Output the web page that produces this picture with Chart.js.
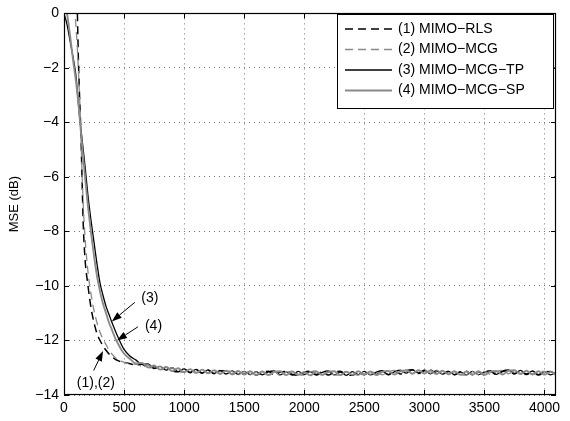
<!DOCTYPE html>
<html><head><meta charset="utf-8">
<script src="https://cdn.jsdelivr.net/npm/chart.js@4/dist/chart.umd.min.js"></script>
<style>html,body{margin:0;padding:0;background:#fff}canvas{display:block}</style>
</head><body>
<canvas id="c" width="570" height="421"></canvas>
<script>
// ---------- data ----------
const seriesNames = ['(1) MIMO\u2212RLS', '(2) MIMO\u2212MCG', '(3) MIMO\u2212MCG\u2212TP', '(4) MIMO\u2212MCG\u2212SP'];

const xTransient = [0,25,50,75,100,110,120,130,140,150,160,175,200,225,250,275,300,325,350,375,400,425,450,475,500,550];
const xSteady = [
  600,650,700,750,800,850,900,950,1000,1050,
  1100,1150,1200,1250,1300,1350,1400,1450,1500,1550,
  1600,1650,1700,1750,1800,1850,1900,1950,2000,2050,
  2100,2150,2200,2250,2300,2350,2400,2450,2500,2550,
  2600,2650,2700,2750,2800,2850,2900,2950,3000,3050,
  3100,3150,3200,3250,3300,3350,3400,3450,3500,3550,
  3600,3650,3700,3750,3800,3850,3900,3950,4000,4050,
  4096];

const rlsTransient = [3,3,3,3,2.0,0.3,-1.7,-3.1,-4.3,-6.0,-7.7,-9.0,-10.0,-10.8,-11.35,-11.75,-12.0,-12.2,-12.36,-12.5,-12.6,-12.68,-12.74,-12.78,-12.8,-12.85];
const rlsSteady = [
  -12.90,-12.87,-13.01,-12.96,-13.08,-12.98,-13.11,-13.15,-13.05,-13.18,
  -13.07,-13.20,-13.09,-13.22,-13.11,-13.12,-13.25,-13.13,-13.24,-13.14,
  -13.27,-13.16,-13.13,-13.26,-13.16,-13.14,-13.25,-13.28,-13.16,-13.13,
  -13.25,-13.15,-13.27,-13.16,-13.13,-13.25,-13.28,-13.15,-13.26,-13.13,
  -13.25,-13.14,-13.26,-13.12,-13.23,-13.11,-13.07,-13.21,-13.11,-13.08,
  -13.21,-13.24,-13.14,-13.26,-13.15,-13.13,-13.26,-13.15,-13.27,-13.14,
  -13.25,-13.14,-13.11,-13.23,-13.12,-13.25,-13.14,-13.27,-13.16,-13.14,
  -13.25];

const mcgTransient = [3,3,2.0,1.0,-0.5,-1.2,-2.1,-3.1,-4.3,-5.8,-7.0,-8.2,-9.5,-10.3,-10.9,-11.35,-11.7,-11.95,-12.15,-12.35,-12.5,-12.62,-12.7,-12.76,-12.8,-12.86];
const mcgSteady = [
  -12.88,-12.94,-12.90,-13.05,-12.95,-13.10,-13.00,-13.13,-13.17,-13.06,
  -13.18,-13.08,-13.21,-13.10,-13.23,-13.12,-13.14,-13.26,-13.14,-13.26,
  -13.15,-13.13,-13.25,-13.14,-13.28,-13.16,-13.13,-13.24,-13.27,-13.15,
  -13.12,-13.26,-13.14,-13.27,-13.25,-13.13,-13.24,-13.27,-13.14,-13.24,
  -13.12,-13.26,-13.15,-13.10,-13.22,-13.08,-13.20,-13.10,-13.07,-13.20,
  -13.09,-13.22,-13.25,-13.14,-13.24,-13.27,-13.14,-13.26,-13.13,-13.24,
  -13.14,-13.10,-13.22,-13.12,-13.24,-13.13,-13.26,-13.15,-13.13,-13.25,
  -13.16];

const tpTransient = [0,-0.4,-1.0,-1.6,-2.3,-2.8,-3.3,-3.8,-4.2,-4.6,-5.0,-5.6,-6.7,-7.6,-8.4,-9.2,-9.9,-10.35,-10.75,-11.05,-11.35,-11.62,-11.88,-12.12,-12.33,-12.58];
const tpSteady = [
  -12.72,-12.88,-12.86,-13.03,-12.95,-13.09,-13.00,-13.14,-13.04,-13.17,
  -13.06,-13.19,-13.08,-13.21,-13.10,-13.23,-13.12,-13.24,-13.13,-13.25,
  -13.14,-13.26,-13.15,-13.12,-13.26,-13.16,-13.27,-13.13,-13.25,-13.15,
  -13.27,-13.17,-13.12,-13.26,-13.16,-13.28,-13.14,-13.25,-13.13,-13.26,
  -13.16,-13.11,-13.25,-13.15,-13.09,-13.20,-13.08,-13.19,-13.09,-13.22,
  -13.11,-13.23,-13.13,-13.25,-13.15,-13.26,-13.13,-13.25,-13.16,-13.11,
  -13.24,-13.12,-13.08,-13.21,-13.10,-13.23,-13.12,-13.25,-13.14,-13.26,
  -13.16];

const spTransient = [0.5,0,-0.8,-1.7,-2.5,-2.9,-3.3,-3.8,-4.3,-4.8,-5.3,-6.0,-7.1,-8.05,-8.9,-9.65,-10.2,-10.65,-11.0,-11.35,-11.62,-11.9,-12.12,-12.32,-12.48,-12.68];
const spSteady = [
  -12.84,-12.82,-12.99,-12.92,-13.07,-12.97,-13.12,-13.02,-13.16,-13.05,
  -13.19,-13.07,-13.20,-13.09,-13.22,-13.11,-13.24,-13.12,-13.25,-13.13,
  -13.26,-13.14,-13.27,-13.15,-13.13,-13.27,-13.14,-13.26,-13.15,-13.28,
  -13.14,-13.26,-13.16,-13.13,-13.27,-13.15,-13.26,-13.13,-13.25,-13.14,
  -13.27,-13.15,-13.12,-13.25,-13.13,-13.10,-13.22,-13.09,-13.21,-13.10,
  -13.23,-13.11,-13.24,-13.13,-13.26,-13.14,-13.25,-13.13,-13.26,-13.14,
  -13.12,-13.25,-13.11,-13.09,-13.22,-13.11,-13.24,-13.13,-13.25,-13.15,
  -13.26];

const xTicks = [0,500,1000,1500,2000,2500,3000,3500,4000];
const yTicks = [0,-2,-4,-6,-8,-10,-12,-14];

// annotations in data units: label, text centre, arrow tail, arrow tip
const annLabels = ['(3)', '(4)', '(1),(2)'];
const annTextPos = [[715,-10.45],[745,-11.46],[265,-13.57]];
const annTailPos = [[590,-10.6],[615,-11.5],[247,-13.1]];
const annTipPos  = [[398,-11.3],[441,-12.0],[325,-12.39]];

// ---------- build ----------
const xs = xTransient.concat(xSteady);
function pts(tr, st){ const ys = tr.concat(st); return xs.map((x,i)=>({x:x, y:ys[i]})); }

const FONT = '"Liberation Sans", Arial, Helvetica, sans-serif';
Chart.defaults.font.family = FONT;
Chart.defaults.font.size = 14;
Chart.defaults.color = '#000';

const GRAY = '#8a8a8a';
const datasets = [
  {label: seriesNames[0], data: pts(rlsTransient, rlsSteady), borderColor:'#000', borderDash:[8,5], borderWidth:1.5, order:3},
  {label: seriesNames[1], data: pts(mcgTransient, mcgSteady), borderColor:GRAY, borderDash:[8,5], borderWidth:1.3, order:2},
  {label: seriesNames[2], data: pts(tpTransient, tpSteady), borderColor:'#000', borderWidth:1.3, order:4},
  {label: seriesNames[3], data: pts(spTransient, spSteady), borderColor:GRAY, borderWidth:1.9, order:1}
];
datasets.forEach(d=>{ d.pointRadius=0; d.fill=false; d.cubicInterpolationMode='monotone'; });

const matlabPlugin = {
  id: 'matlab',
  afterDatasetsDraw(chart){
    const {ctx, chartArea:a, scales} = chart;
    const x = scales.x, y = scales.y;
    ctx.save();
    ctx.setLineDash([]);
    ctx.strokeStyle = '#000';
    ctx.lineWidth = 1;
    // inward ticks on all sides
    ctx.beginPath();
    xTicks.forEach(v=>{
      const px = Math.round(x.getPixelForValue(v)) + 0.5;
      ctx.moveTo(px, a.bottom); ctx.lineTo(px, a.bottom - 5);
      ctx.moveTo(px, a.top); ctx.lineTo(px, a.top + 5);
    });
    yTicks.forEach(v=>{
      const py = Math.round(y.getPixelForValue(v)) + 0.5;
      ctx.moveTo(a.left, py); ctx.lineTo(a.left + 5, py);
      ctx.moveTo(a.right, py); ctx.lineTo(a.right - 5, py);
    });
    ctx.stroke();
    // box
    ctx.lineWidth = 1.2;
    ctx.strokeRect(Math.round(a.left)+0.5, Math.round(a.top)+0.5, Math.round(a.right-a.left)-1, Math.round(a.bottom-a.top)-1);

    // annotations
    ctx.font = '14px ' + FONT;
    ctx.fillStyle = '#000';
    ctx.textAlign = 'center';
    ctx.textBaseline = 'middle';
    annLabels.forEach((lab,i)=>{
      const tx = x.getPixelForValue(annTextPos[i][0]), ty = y.getPixelForValue(annTextPos[i][1]);
      ctx.fillText(lab, tx, ty);
      const x0 = x.getPixelForValue(annTailPos[i][0]), y0 = y.getPixelForValue(annTailPos[i][1]);
      const x1 = x.getPixelForValue(annTipPos[i][0]), y1 = y.getPixelForValue(annTipPos[i][1]);
      const ang = Math.atan2(y1-y0, x1-x0);
      const L = 10, W = 3.5;
      const bx = x1 - L*Math.cos(ang), by = y1 - L*Math.sin(ang);
      ctx.lineWidth = 1;
      ctx.beginPath(); ctx.moveTo(x0,y0); ctx.lineTo(bx,by); ctx.stroke();
      ctx.beginPath();
      ctx.moveTo(x1,y1);
      ctx.lineTo(bx + W*Math.sin(ang), by - W*Math.cos(ang));
      ctx.lineTo(bx - W*Math.sin(ang), by + W*Math.cos(ang));
      ctx.closePath(); ctx.fill();
    });

    // legend box
    const lx = 337, ly = 14, lw = 216, lh = 94, rowH = 20.5;
    ctx.fillStyle = '#fff';
    ctx.fillRect(lx, ly, lw, lh);
    ctx.lineWidth = 1;
    ctx.strokeStyle = '#000';
    ctx.strokeRect(lx+0.5, ly+0.5, lw, lh);
    ctx.textAlign = 'left';
    chart.data.datasets.forEach((d,i)=>{
      const ry = ly + 15 + i*rowH;
      ctx.save();
      ctx.strokeStyle = d.borderColor;
      ctx.lineWidth = d.borderWidth;
      ctx.setLineDash(d.borderDash || []);
      ctx.beginPath(); ctx.moveTo(345, ry); ctx.lineTo(392, ry); ctx.stroke();
      ctx.restore();
      ctx.fillStyle = '#000';
      ctx.fillText(d.label, 398, ry);
    });
    ctx.restore();
  }
};

new Chart(document.getElementById('c'), {
  type: 'line',
  data: { datasets },
  plugins: [matlabPlugin],
  options: {
    responsive: false,
    animation: false,
    devicePixelRatio: 1,
    layout: { padding: { top: 9, right: 14, left: 0, bottom: 0 } },
    plugins: { legend: { display: false }, tooltip: { enabled: false } },
    scales: {
      x: {
        type: 'linear', min: 0, max: 4096,
        afterBuildTicks: s => { s.ticks = xTicks.map(v=>({value:v})); },
        afterFit: s => { s.height = 26; },
        ticks: { padding: 5, maxRotation: 0, autoSkip: false, font: {size: 14},
          callback: v => String(v) },
        grid: { color: 'rgba(0,0,0,0.55)', drawTicks: false, lineWidth: 1 },
        border: { display: false, dash: [1,4] }
      },
      y: {
        type: 'linear', min: -14, max: 0,
        afterBuildTicks: s => { s.ticks = yTicks.map(v=>({value:v})); },
        afterFit: s => { s.width = 64; },
        ticks: { padding: 5, autoSkip: false, font: {size: 14},
          callback: v => (v < 0 ? '\u2212' : '') + Math.abs(v) },
        grid: { color: 'rgba(0,0,0,0.55)', drawTicks: false, lineWidth: 1 },
        border: { display: false, dash: [1,4] },
        title: { display: true, text: 'MSE (dB)', font: {size: 13}, padding: {top: 7, bottom: 0} }
      }
    }
  }
});
</script>
</body></html>
